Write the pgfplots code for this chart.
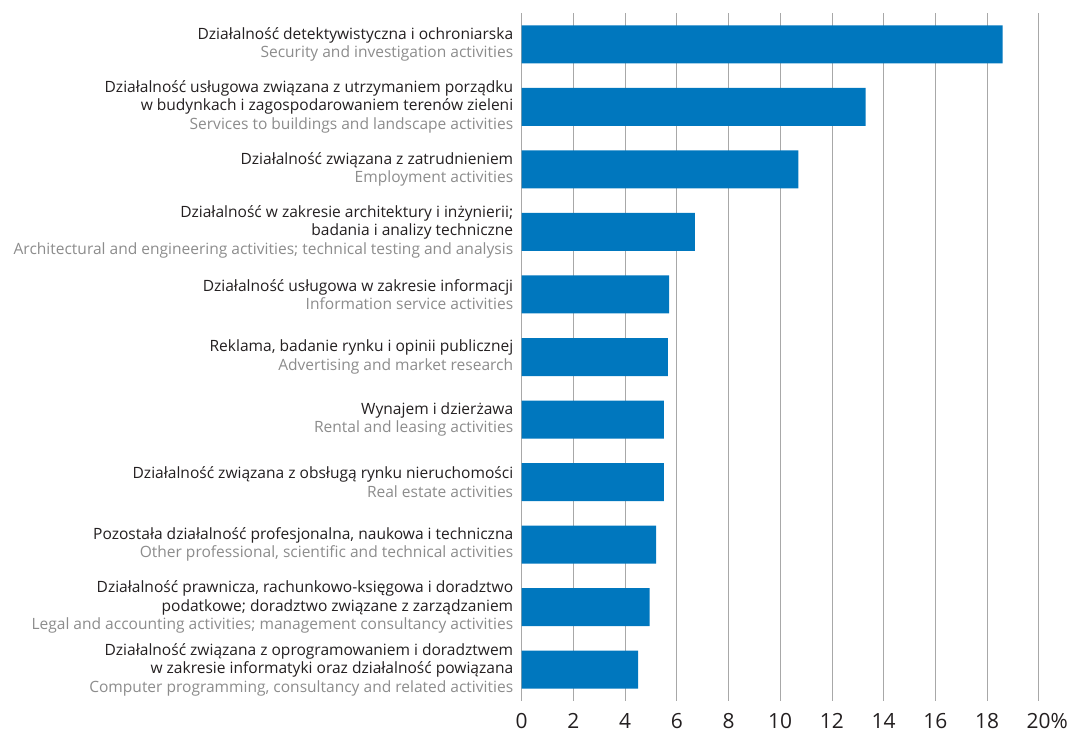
\documentclass[border=0pt]{standalone}
\usepackage{fontspec}
\setmainfont{Open Sans}
\usepackage{pgfplots}
\pgfplotsset{compat=1.18}
\definecolor{barblue}{HTML}{0077BE}
\definecolor{engl}{HTML}{8C8C8C}
\definecolor{txt}{HTML}{231F20}
\definecolor{gridc}{HTML}{A8A8A8}
\begin{document}
\begin{tikzpicture}
\begin{axis}[
  at={(521.7bp,31bp)}, anchor=south west,
  scale only axis, width=517bp, height=688bp,
  xbar, bar width=38bp,
  xmin=0, xmax=20, ymin=-0.5, ymax=10.5, y dir=reverse,
  axis line style={draw=none},
  xmajorgrids, grid style={gridc, line width=0.8bp},
  major tick length=0pt,
  xtick={0,2,...,20},
  xticklabels={0,2,4,6,8,10,12,14,16,18,20\rlap{\%}},
  xticklabel style={font=\fontsize{21}{24}\selectfont, text=txt, yshift=-9bp},
  ytick={0,...,10},
  yticklabel style={align=right, font=\fontsize{15.6}{18.5}\selectfont, text=txt, xshift=-5bp},
  yticklabels={
    {Działalność detektywistyczna i ochroniarska\\\textcolor{engl}{Security and investigation activities}},
    {Działalność usługowa związana z utrzymaniem porządku\\w budynkach i zagospodarowaniem terenów zieleni\\\textcolor{engl}{Services to buildings and landscape activities}},
    {Działalność związana z zatrudnieniem\\\textcolor{engl}{Employment activities}},
    {Działalność w zakresie architektury i inżynierii;\\badania i analizy techniczne\\\textcolor{engl}{Architectural and engineering activities; technical testing and analysis}},
    {Działalność usługowa w zakresie informacji\\\textcolor{engl}{Information service activities}},
    {Reklama, badanie rynku i opinii publicznej\\\textcolor{engl}{Advertising and market research}},
    {Wynajem i dzierżawa\\\textcolor{engl}{Rental and leasing activities}},
    {Działalność związana z obsługą rynku nieruchomości\\\textcolor{engl}{Real estate activities}},
    {Pozostała działalność profesjonalna, naukowa i techniczna\\\textcolor{engl}{Other professional, scientific and technical activities}},
    {Działalność prawnicza, rachunkowo-księgowa i doradztwo\\podatkowe; doradztwo związane z zarządzaniem\\\textcolor{engl}{Legal and accounting activities; management consultancy activities}},
    {Działalność związana z oprogramowaniem i doradztwem\\w zakresie informatyki oraz działalność powiązana\\\textcolor{engl}{Computer programming, consultancy and related activities}}
  },
]
\addplot[fill=barblue, draw=none] coordinates {
  (18.6,0) (13.3,1) (10.7,2) (6.7,3) (5.7,4) (5.65,5) (5.5,6) (5.5,7) (5.2,8) (4.95,9) (4.5,10)
};
\end{axis}
\pgfresetboundingbox
\path (0,0) rectangle (1068bp,732bp);
\end{tikzpicture}
\end{document}
